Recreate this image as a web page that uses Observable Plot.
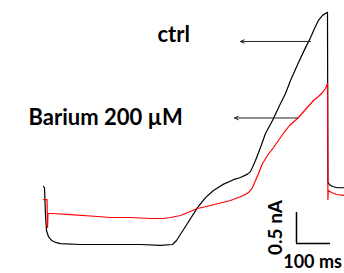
<!DOCTYPE html>
<html>
<head>
<meta charset="utf-8">
<script src="https://cdn.jsdelivr.net/npm/d3@7"></script>
<script src="https://cdn.jsdelivr.net/npm/@observablehq/plot@0.6"></script>
<style>
  html, body { margin: 0; padding: 0; background: #fff; }
  #chart { width: 344px; height: 273px; overflow: hidden; }
</style>
</head>
<body>
<div id="chart"></div>
<script>
// Time (ms) and current (nA)
const ctrlT = [0, 2.9, 5.9, 8.8, 14.7, 23.5, 35.3, 50, 108.8, 197, 285.3, 344.1, 379.4, 391.2, 417.6, 452.9, 476.5, 500, 526.5, 558.8, 579.4, 600, 608.8, 623.5, 638.2, 652.9, 673.5, 697.1, 711.8, 726.5, 750, 770.6, 785.3, 797.1, 808.8, 820.6, 835.3, 836.5, 841.2, 850, 864.7, 885.3];
const ctrlI = [0, -0.02, -0.47, -0.71, -0.81, -0.87, -0.90, -0.92, -0.935, -0.935, -0.935, -0.95, -0.935, -0.87, -0.645, -0.34, -0.18, -0.065, 0.03, 0.11, 0.145, 0.2, 0.24, 0.42, 0.63, 0.855, 1.065, 1.34, 1.5, 1.71, 2.0, 2.24, 2.40, 2.55, 2.68, 2.76, 2.81, 0.07, 0.03, 0, -0.02, -0.02];

const bariumT = [0, 10.3, 11.8, 13.2, 26.5, 79.4, 158.8, 197.1, 255.9, 314.7, 352.9, 373.5, 402.9, 452.9, 491.2, 550, 588.2, 602.9, 614.7, 623.5, 632.4, 644.1, 658.8, 676.5, 697.1, 711.8, 723.5, 747.1, 770.6, 794.1, 808.8, 820.6, 829.4, 835.3, 836.5, 837.6, 847.1, 861.8, 885.3];
const bariumI = [-0.21, -0.21, -0.66, -0.435, -0.435, -0.452, -0.484, -0.5, -0.5, -0.516, -0.516, -0.5, -0.468, -0.355, -0.306, -0.226, -0.145, -0.097, -0.016, 0.097, 0.21, 0.371, 0.5, 0.629, 0.79, 0.903, 0.984, 1.097, 1.242, 1.387, 1.452, 1.516, 1.581, 1.661, -0.21, -0.065, -0.097, -0.129, -0.145];

const seriesNames = ["ctrl", "Barium 200 µM"];
const seriesColors = ["#000000", "#ff0000"];
const scaleBarLabels = ["0.5 nA", "100 ms"];
const scaleBarValues = [0.5, 100]; // nA, ms

const ctrl = ctrlT.map((t, i) => ({t, I: ctrlI[i]}));
const barium = bariumT.map((t, i) => ({t, I: bariumI[i]}));

const font = "Lato, 'Open Sans', sans-serif";

// annotation anchors (data units)
const barX = 744.1, barY = -0.919;

const chart = Plot.plot({
  width: 344,
  height: 273,
  margin: 0,
  x: {domain: [-126.5, 885.3], axis: null},
  y: {domain: [-1.403, 3.0], axis: null},
  style: {background: "#fff", fontFamily: font},
  marks: [
    Plot.line(ctrl, {x: "t", y: "I", stroke: seriesColors[0], strokeWidth: 1.2}),
    Plot.line(barium, {x: "t", y: "I", stroke: seriesColors[1], strokeWidth: 1.2}),
    // label arrows
    Plot.arrow([{x1: 785.3, x2: 579.4, y: 2.339}, {x1: 747.1, x2: 561.8, y: 1.105}], {
      x1: "x1", x2: "x2", y1: "y", y2: "y", stroke: "#222", strokeWidth: 1, headLength: 6, headAngle: 50
    }),
    Plot.text([seriesNames[0]], {x: [335.3], y: [2.45], text: d => d, textAnchor: "start", lineAnchor: "middle",
      fontSize: 22, fontWeight: "bold", fill: "#000"}),
    Plot.text([seriesNames[1]], {x: [-44.1], y: [1.113], text: d => d, textAnchor: "start", lineAnchor: "middle",
      fontSize: 22, fontWeight: "bold", fill: "#000"}),
    // scale bar
    Plot.ruleX([barX], {y1: barY, y2: barY + scaleBarValues[0], stroke: "#000", strokeWidth: 1.5}),
    Plot.ruleY([barY], {x1: barX, x2: barX + scaleBarValues[1], stroke: "#000", strokeWidth: 1.5}),
    Plot.text([scaleBarLabels[0]], {x: [683.8], y: [-0.661], text: d => d, rotate: -90, textAnchor: "middle", lineAnchor: "middle",
      fontSize: 19, fontWeight: "bold", fill: "#000"}),
    Plot.text([scaleBarLabels[1]], {x: [705], y: [-1.215], text: d => d, textAnchor: "start", lineAnchor: "middle",
      fontSize: 18, fontWeight: "bold", fill: "#000"})
  ]
});
document.getElementById("chart").appendChild(chart);
</script>
</body>
</html>
